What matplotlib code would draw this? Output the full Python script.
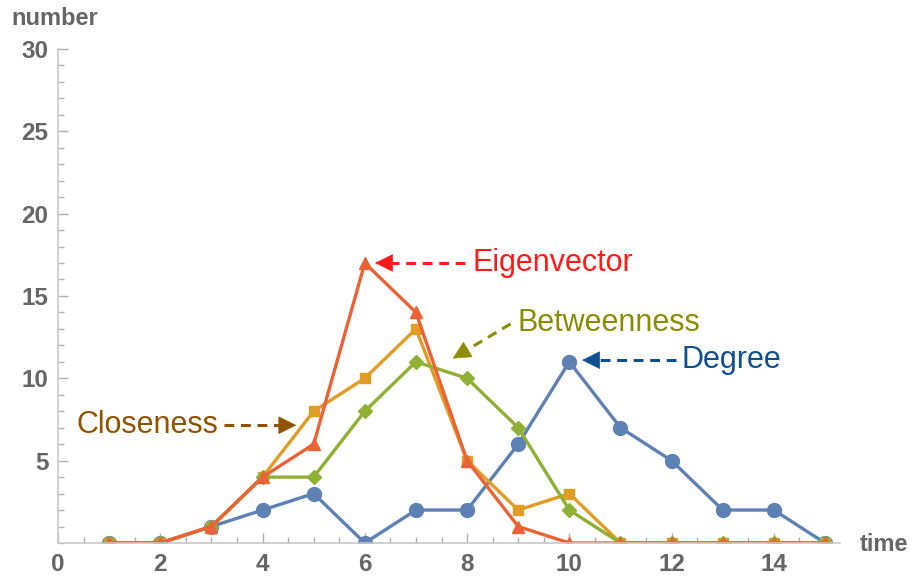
import matplotlib
matplotlib.use("Agg")
import matplotlib.pyplot as plt
import numpy as np
from matplotlib.ticker import MultipleLocator

plt.rcParams['font.family'] = ['Liberation Sans', 'DejaVu Sans']

time = [1, 2, 3, 4, 5, 6, 7, 8, 9, 10, 11, 12, 13, 14, 15]
degree = [0, 0, 1, 2, 3, 0, 2, 2, 6, 11, 7, 5, 2, 2, 0]
closeness = [0, 0, 1, 4, 8, 10, 13, 5, 2, 3, 0, 0, 0, 0, 0]
betweenness = [0, 0, 1, 4, 4, 8, 11, 10, 7, 2, 0, 0, 0, 0, 0]
eigenvector = [0, 0, 1, 4, 6, 17, 14, 5, 1, 0, 0, 0, 0, 0, 0]

fig = plt.figure(figsize=(9.15, 5.8), dpi=100)
ax = fig.add_axes([0.0634, 0.0638, 0.855, 0.852])

ax.plot(time, degree, color='#5E81B5', marker='o', markersize=10, linewidth=2.4)
ax.plot(time, closeness, color='#E19C24', marker='s', markersize=6.5, linewidth=2.4)
ax.plot(time, betweenness, color='#8FB032', marker='D', markersize=7, linewidth=2.4)
ax.plot(time, eigenvector, color='#EB6235', marker='^', markersize=9, linewidth=2.4)

ax.set_xlim(0, 15.3)
ax.set_ylim(0, 30)

for side in ['top', 'right']:
    ax.spines[side].set_visible(False)
for side in ['left', 'bottom']:
    ax.spines[side].set_color('#c8c8c8')
    ax.spines[side].set_linewidth(1.2)

ax.xaxis.set_major_locator(MultipleLocator(2))
ax.xaxis.set_minor_locator(MultipleLocator(0.5))
ax.yaxis.set_major_locator(MultipleLocator(5))
ax.yaxis.set_minor_locator(MultipleLocator(1))
ax.set_yticks([5, 10, 15, 20, 25, 30])
ax.tick_params(which='both', direction='in', color='#b0b0b0', width=1)
ax.tick_params(which='major', length=7, labelsize=17.5, labelcolor='#666666', pad=7)
ax.tick_params(which='minor', length=4)
for lab in ax.get_xticklabels() + ax.get_yticklabels():
    lab.set_fontweight('bold')

fig.text(0.012, 0.968, 'number', fontsize=17, fontweight='bold', color='#666666',
         ha='left', va='center')
fig.text(0.94, 0.062, 'time', fontsize=17, fontweight='bold', color='#666666',
         ha='left', va='center')


def label(text, pos, color, ha='left'):
    ax.text(pos[0], pos[1], text, fontsize=22, color=color, ha=ha, va='center')


def arrow(head, tail, color, head_px=17):
    # dashed shaft up to the base of a solid triangular head
    h = ax.transData.transform(head)
    t = ax.transData.transform(tail)
    d = (h - t) / np.hypot(*(h - t))
    base = ax.transData.inverted().transform(h - d * head_px)
    ax.plot([tail[0], base[0]], [tail[1], base[1]], color=color, linewidth=2.2,
            dashes=(3.2, 2.2), solid_capstyle='butt', dash_capstyle='butt')
    ax.annotate('', xy=head, xytext=base,
                arrowprops=dict(arrowstyle='-|>,head_length=1.2,head_width=0.6',
                                color=color, linewidth=0.5, shrinkA=0, shrinkB=0))


label('Eigenvector', (8.1, 17.0), '#FF1A1A')
arrow((6.2, 17.0), (7.95, 17.0), '#FF1A1A')

label('Betweenness', (8.98, 13.35), '#8C8C00')
arrow((7.72, 11.2), (8.85, 13.3), '#8C8C00')

label('Degree', (12.2, 11.1), '#0F4F8F')
arrow((10.25, 11.1), (12.08, 11.1), '#0F4F8F')

label('Closeness', (3.13, 7.15), '#8F5300', ha='right')
arrow((4.66, 7.15), (3.25, 7.15), '#8F5300')

fig.savefig('out.png', dpi=100)
